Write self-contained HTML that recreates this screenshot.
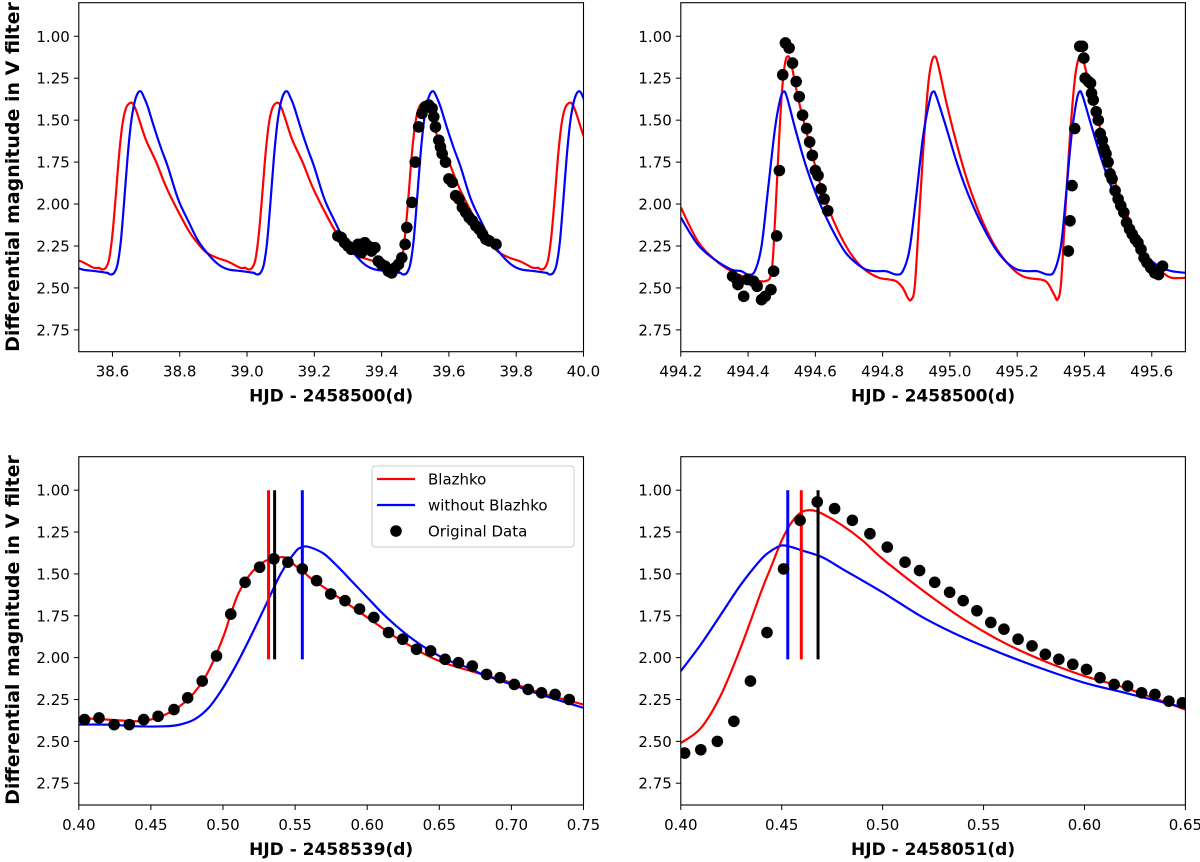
<!DOCTYPE html>
<html><head><meta charset="utf-8"><style>
html,body{margin:0;padding:0;background:#fff;}
svg{display:block;font-family:"DejaVu Sans","Liberation Sans",sans-serif;}
</style></head><body>
<svg id="fig" width="1200" height="862" viewBox="0 0 1200 862">
<text x="19" y="177" transform="rotate(-90 19 177)" text-anchor="middle" font-size="19" font-weight="bold">Differential magnitude in V filter</text>
<text x="19" y="630" transform="rotate(-90 19 630)" text-anchor="middle" font-size="19" font-weight="bold">Differential magnitude in V filter</text>
</svg>
<script>
// ---------- data ----------
const yTicks = [1.00, 1.25, 1.50, 1.75, 2.00, 2.25, 2.50, 2.75];
// Panel A (top-left)
const aXTicks = [38.6, 38.8, 39.0, 39.2, 39.4, 39.6, 39.8, 40.0];
const aRedPeaks = [38.225, 38.660, 39.095, 39.530, 39.965];
const aBluePeaks = [38.250, 38.685, 39.120, 39.555, 39.990];
const aRedTemplate = [[-0.10,2.38],[-0.09,2.39],[-0.08,2.38],[-0.07,2.33],[-0.06,2.18],[-0.05,1.95],[-0.04,1.70],[-0.03,1.52],[-0.02,1.43],[-0.01,1.40],[0,1.40],[0.01,1.44],[0.02,1.50],[0.04,1.62],[0.07,1.75],[0.10,1.90],[0.137,2.05],[0.17,2.17],[0.20,2.25],[0.22,2.29],[0.25,2.32],[0.28,2.34],[0.30,2.36],[0.32,2.38],[0.335,2.38]];
const aBlueTemplate = [[-0.10,2.41],[-0.09,2.42],[-0.08,2.41],[-0.07,2.36],[-0.06,2.22],[-0.05,1.98],[-0.04,1.72],[-0.03,1.52],[-0.02,1.40],[-0.01,1.34],[0,1.33],[0.01,1.37],[0.02,1.42],[0.04,1.55],[0.06,1.67],[0.08,1.78],[0.11,1.97],[0.14,2.10],[0.17,2.22],[0.20,2.30],[0.23,2.36],[0.26,2.39],[0.30,2.40],[0.335,2.41]];
const aDots = [[39.27,2.19],[39.28,2.20],[39.29,2.23],[39.30,2.25],[39.31,2.27],[39.32,2.26],[39.33,2.24],[39.335,2.28],[39.34,2.29],[39.35,2.23],[39.36,2.25],[39.37,2.28],[39.38,2.26],[39.39,2.34],[39.40,2.36],[39.41,2.37],[39.42,2.40],[39.43,2.41],[39.44,2.38],[39.45,2.36],[39.46,2.32],[39.47,2.24],[39.475,2.14],[39.49,1.99],[39.50,1.75],[39.51,1.54],[39.52,1.46],[39.53,1.42],[39.54,1.41],[39.55,1.43],[39.555,1.48],[39.56,1.54],[39.57,1.62],[39.575,1.66],[39.58,1.70],[39.59,1.75],[39.60,1.85],[39.61,1.87],[39.62,1.95],[39.63,1.97],[39.64,2.02],[39.65,2.05],[39.66,2.08],[39.67,2.10],[39.68,2.13],[39.69,2.15],[39.70,2.18],[39.71,2.21],[39.72,2.22],[39.74,2.24]];
// Panel B (top-right)
const bXTicks = [494.2, 494.4, 494.6, 494.8, 495.0, 495.2, 495.4, 495.6];
const bRed = [[494.2,2.02],[494.25,2.22],[494.3,2.33],[494.35,2.40],[494.4,2.44],[494.45,2.46],[494.47,2.40],[494.48,2.10],[494.49,1.70],[494.50,1.35],[494.51,1.16],[494.52,1.12],[494.53,1.18],[494.55,1.38],[494.58,1.62],[494.61,1.85],[494.64,2.03],[494.67,2.17],[494.70,2.28],[494.73,2.36],[494.76,2.41],[494.79,2.44],[494.82,2.45],[494.84,2.46],[494.86,2.50],[494.875,2.56],[494.885,2.57],[494.895,2.50],[494.905,2.20],[494.92,1.70],[494.935,1.30],[494.945,1.16],[494.955,1.12],[494.965,1.17],[494.99,1.40],[495.02,1.64],[495.05,1.85],[495.08,2.02],[495.11,2.16],[495.14,2.27],[495.17,2.35],[495.20,2.41],[495.23,2.44],[495.27,2.45],[495.29,2.47],[495.31,2.54],[495.32,2.57],[495.33,2.48],[495.34,2.15],[495.355,1.65],[495.37,1.28],[495.38,1.15],[495.39,1.12],[495.40,1.17],[495.43,1.42],[495.46,1.65],[495.49,1.86],[495.52,2.03],[495.55,2.17],[495.58,2.29],[495.61,2.37],[495.64,2.42],[495.66,2.44],[495.7,2.44]];
const bBlue = [[494.2,2.08],[494.25,2.24],[494.3,2.33],[494.35,2.39],[494.38,2.40],[494.40,2.42],[494.42,2.40],[494.44,2.25],[494.46,1.90],[494.48,1.55],[494.495,1.38],[494.505,1.33],[494.515,1.36],[494.54,1.55],[494.57,1.76],[494.60,1.93],[494.63,2.07],[494.66,2.19],[494.69,2.29],[494.72,2.35],[494.75,2.39],[494.78,2.40],[494.81,2.40],[494.84,2.42],[494.86,2.40],[494.88,2.27],[494.90,1.95],[494.92,1.60],[494.94,1.38],[494.95,1.33],[494.96,1.36],[494.99,1.55],[495.02,1.75],[495.05,1.92],[495.08,2.06],[495.11,2.18],[495.14,2.28],[495.17,2.35],[495.20,2.39],[495.23,2.40],[495.26,2.40],[495.29,2.42],[495.31,2.40],[495.33,2.25],[495.345,1.95],[495.36,1.62],[495.375,1.40],[495.385,1.33],[495.395,1.36],[495.42,1.53],[495.45,1.73],[495.48,1.90],[495.51,2.05],[495.54,2.17],[495.57,2.27],[495.60,2.34],[495.63,2.38],[495.66,2.40],[495.7,2.41]];
const bDots = [[494.354,2.43],[494.366,2.45],[494.37,2.48],[494.387,2.55],[494.398,2.45],[494.416,2.46],[494.427,2.49],[494.44,2.57],[494.451,2.55],[494.468,2.51],[494.476,2.40],[494.485,2.19],[494.493,1.80],[494.503,1.23],[494.511,1.04],[494.522,1.07],[494.532,1.16],[494.543,1.27],[494.552,1.36],[494.562,1.47],[494.574,1.55],[494.583,1.63],[494.591,1.71],[494.60,1.80],[494.608,1.83],[494.617,1.91],[494.626,1.97],[494.637,2.04],[495.352,2.28],[495.357,2.10],[495.363,1.89],[495.371,1.55],[495.386,1.06],[495.394,1.06],[495.398,1.13],[495.402,1.25],[495.412,1.27],[495.418,1.28],[495.421,1.34],[495.426,1.38],[495.435,1.45],[495.441,1.50],[495.447,1.58],[495.453,1.62],[495.458,1.67],[495.464,1.70],[495.47,1.75],[495.476,1.82],[495.482,1.85],[495.491,1.92],[495.50,1.97],[495.508,2.01],[495.517,2.05],[495.525,2.11],[495.534,2.15],[495.542,2.18],[495.551,2.21],[495.559,2.23],[495.568,2.27],[495.577,2.32],[495.586,2.35],[495.597,2.38],[495.609,2.41],[495.62,2.42],[495.632,2.37]];
// Panel C (bottom-left)
const cXTicks = [0.40, 0.45, 0.50, 0.55, 0.60, 0.65, 0.70, 0.75];
const cRed = [[0.40,2.36],[0.42,2.37],[0.44,2.38],[0.45,2.37],[0.46,2.34],[0.47,2.29],[0.48,2.21],[0.49,2.08],[0.50,1.88],[0.505,1.75],[0.51,1.63],[0.515,1.55],[0.52,1.49],[0.525,1.45],[0.53,1.42],[0.54,1.40],[0.545,1.41],[0.55,1.45],[0.555,1.48],[0.56,1.52],[0.57,1.58],[0.58,1.64],[0.59,1.70],[0.60,1.76],[0.61,1.82],[0.62,1.88],[0.63,1.93],[0.64,1.98],[0.65,2.02],[0.66,2.05],[0.68,2.10],[0.70,2.15],[0.72,2.21],[0.75,2.28]];
const cBlue = [[0.40,2.40],[0.42,2.40],[0.44,2.41],[0.46,2.41],[0.47,2.40],[0.48,2.37],[0.49,2.30],[0.50,2.18],[0.51,2.03],[0.52,1.86],[0.53,1.68],[0.54,1.50],[0.55,1.37],[0.555,1.34],[0.56,1.34],[0.57,1.38],[0.58,1.46],[0.59,1.55],[0.60,1.64],[0.61,1.73],[0.62,1.81],[0.63,1.88],[0.64,1.94],[0.65,1.99],[0.66,2.03],[0.67,2.06],[0.68,2.10],[0.70,2.16],[0.72,2.22],[0.75,2.30]];
const cDots = [[0.404,2.37],[0.414,2.36],[0.4245,2.40],[0.435,2.40],[0.445,2.37],[0.455,2.35],[0.466,2.31],[0.4755,2.24],[0.4856,2.14],[0.4955,1.99],[0.5054,1.74],[0.5153,1.55],[0.5254,1.46],[0.5353,1.41],[0.545,1.43],[0.555,1.47],[0.5649,1.54],[0.5747,1.62],[0.5846,1.66],[0.5947,1.71],[0.6046,1.76],[0.6148,1.85],[0.6246,1.89],[0.6342,1.95],[0.644,1.96],[0.654,2.01],[0.6633,2.03],[0.6729,2.05],[0.6828,2.10],[0.6921,2.12],[0.702,2.16],[0.7116,2.19],[0.7209,2.21],[0.7303,2.22],[0.7401,2.25]];
const cPeakLines = [0.5316, 0.5358, 0.555];
// Panel D (bottom-right)
const dXTicks = [0.40, 0.45, 0.50, 0.55, 0.60, 0.65];
const dRed = [[0.40,2.51],[0.41,2.42],[0.42,2.22],[0.43,1.93],[0.44,1.60],[0.445,1.45],[0.45,1.30],[0.455,1.19],[0.46,1.13],[0.465,1.12],[0.47,1.14],[0.48,1.21],[0.49,1.30],[0.50,1.41],[0.52,1.60],[0.54,1.77],[0.56,1.91],[0.58,2.02],[0.60,2.11],[0.62,2.18],[0.65,2.31]];
const dBlue = [[0.40,2.08],[0.41,1.92],[0.42,1.74],[0.43,1.56],[0.44,1.41],[0.445,1.36],[0.45,1.33],[0.455,1.34],[0.46,1.36],[0.47,1.40],[0.48,1.47],[0.50,1.61],[0.52,1.76],[0.54,1.88],[0.56,1.98],[0.58,2.07],[0.60,2.15],[0.62,2.21],[0.65,2.30]];
const dDots = [[0.4019,2.57],[0.4099,2.55],[0.4181,2.50],[0.4263,2.38],[0.4345,2.14],[0.4427,1.85],[0.4509,1.47],[0.4591,1.18],[0.4676,1.07],[0.4762,1.11],[0.485,1.18],[0.4937,1.26],[0.5023,1.34],[0.5111,1.43],[0.5183,1.48],[0.5258,1.55],[0.5332,1.61],[0.5399,1.66],[0.5467,1.72],[0.5536,1.79],[0.5601,1.83],[0.5671,1.89],[0.574,1.93],[0.5806,1.98],[0.5873,2.01],[0.5942,2.04],[0.601,2.07],[0.6077,2.12],[0.6147,2.16],[0.6214,2.17],[0.6283,2.21],[0.6349,2.22],[0.6418,2.26],[0.6485,2.27]];
const dPeakLines = [0.468, 0.4597, 0.453];
const xTitles = ["HJD - 2458500(d)", "HJD - 2458500(d)", "HJD - 2458539(d)", "HJD - 2458051(d)"];
const legendLabels = ["Blazhko", "without Blazhko", "Original Data"];

// ---------- drawing ----------
const NS = "http://www.w3.org/2000/svg";
const fig = document.getElementById("fig");
function mk(tag, attrs, parent) {
  const e = document.createElementNS(NS, tag);
  for (const k in attrs) e.setAttribute(k, attrs[k]);
  (parent || fig).appendChild(e);
  return e;
}
function expand(template, peaks) {
  const out = [];
  peaks.forEach(p => template.forEach(t => out.push([p + t[0], t[1]])));
  return out;
}
function smoothPath(P) {
  if (!P.length) return "";
  let d = "M" + P[0][0].toFixed(2) + "," + P[0][1].toFixed(2);
  for (let i = 0; i < P.length - 1; i++) {
    const p0 = P[i - 1] || P[i], p1 = P[i], p2 = P[i + 1], p3 = P[i + 2] || p2;
    const c1 = [p1[0] + (p2[0] - p0[0]) / 6, p1[1] + (p2[1] - p0[1]) / 6];
    const c2 = [p2[0] - (p3[0] - p1[0]) / 6, p2[1] - (p3[1] - p1[1]) / 6];
    d += "C" + c1[0].toFixed(2) + "," + c1[1].toFixed(2) + " " + c2[0].toFixed(2) + "," + c2[1].toFixed(2) + " " + p2[0].toFixed(2) + "," + p2[1].toFixed(2);
  }
  return d;
}
function panel(id, box, xmin, xmax, xticks, dec, title, red, blue, dots, lines, lineColors) {
  const g = mk("g", {});
  
  
  const ymin = 0.80, ymax = 2.88;
  const sx = v => box.l + (v - xmin) / (xmax - xmin) * (box.r - box.l);
  const sy = v => box.t + (v - ymin) / (ymax - ymin) * (box.b - box.t);
  const clipId = "clip-" + id;
  const cp = mk("clipPath", {id: clipId}, g);
  mk("rect", {x: box.l, y: box.t, width: box.r - box.l, height: box.b - box.t}, cp);
  const plot = mk("g", {"clip-path": "url(#" + clipId + ")"}, g);
  function curve(pts, color, name) {
    const P = pts.map(p => [sx(p[0]), sy(p[1])]);
    const path = mk("path", {d: smoothPath(P), fill: "none", stroke: color, "stroke-width": 2.2, "stroke-linejoin": "round"}, plot);
    
    
  }
  curve(red, "#ff0000", id + "-blazhko-curve");
  curve(blue, "#0000ff", id + "-no-blazhko-curve");
  if (lines) {
    lines.forEach((v, i) => {
      const ln = mk("line", {x1: sx(v), x2: sx(v), y1: sy(1.0), y2: sy(2.01), stroke: lineColors[i], "stroke-width": 3}, plot);
      
      
    });
  }
  dots.forEach(p => {
    const c = mk("circle", {cx: sx(p[0]), cy: sy(p[1]), r: 5.8, fill: "#000"}, plot);
    
    
  });
  const fr = mk("rect", {x: box.l, y: box.t, width: box.r - box.l, height: box.b - box.t, fill: "none", stroke: "#000", "stroke-width": 1.1}, g);
  
  
  yTicks.forEach(v => {
    mk("line", {x1: box.l - 5, x2: box.l, y1: sy(v), y2: sy(v), stroke: "#000", "stroke-width": 1}, g);
    const t = mk("text", {x: box.l - 9, y: sy(v) + 5.5, "text-anchor": "end", "font-size": 15}, g);
    t.textContent = v.toFixed(2);
    
    
  });
  xticks.forEach(v => {
    mk("line", {x1: sx(v), x2: sx(v), y1: box.b, y2: box.b + 5, stroke: "#000", "stroke-width": 1}, g);
    const t = mk("text", {x: sx(v), y: box.b + 25, "text-anchor": "middle", "font-size": 15}, g);
    t.textContent = v.toFixed(dec);
    
    
  });
  const xt = mk("text", {x: (box.l + box.r) / 2, y: box.b + 50, "text-anchor": "middle", "font-size": 17, "font-weight": "bold"}, g);
  xt.textContent = title;
  
  
}
panel("panel-top-left", {l: 78.8, r: 583.5, t: 2.7, b: 351.7}, 38.5, 40.0, aXTicks, 1, xTitles[0],
  expand(aRedTemplate, aRedPeaks), expand(aBlueTemplate, aBluePeaks), aDots, null, null);
panel("panel-top-right", {l: 680.8, r: 1185.4, t: 2.7, b: 351.7}, 494.2, 495.7, bXTicks, 1, xTitles[1],
  bRed, bBlue, bDots, null, null);
panel("panel-bottom-left", {l: 78.8, r: 583.5, t: 456.7, b: 805}, 0.40, 0.75, cXTicks, 2, xTitles[2],
  cRed, cBlue, cDots, cPeakLines, ["#ff0000", "#000000", "#0000ff"]);
panel("panel-bottom-right", {l: 680.8, r: 1185.4, t: 456.7, b: 805}, 0.40, 0.65, dXTicks, 2, xTitles[3],
  dRed, dBlue, dDots, dPeakLines, ["#000000", "#ff0000", "#0000ff"]);

// legend
const lg = mk("g", {});


mk("rect", {x: 372, y: 466, width: 202, height: 81, rx: 3, fill: "#fff", stroke: "#ccc", "stroke-width": 1}, lg);
const legColors = ["#ff0000", "#0000ff", "#000"];
legendLabels.forEach((lab, i) => {
  const y = 479 + i * 26;
  if (i < 2) {
    const l = mk("line", {x1: 377, x2: 415, y1: y, y2: y, stroke: legColors[i], "stroke-width": 2.2}, lg);
    
    
  } else {
    const c = mk("circle", {cx: 396, cy: y, r: 5.8, fill: "#000"}, lg);
    
    
  }
  const t = mk("text", {x: 428, y: y + 5.5, "font-size": 15}, lg);
  t.textContent = lab;
  
  
});
</script>
</body></html>
